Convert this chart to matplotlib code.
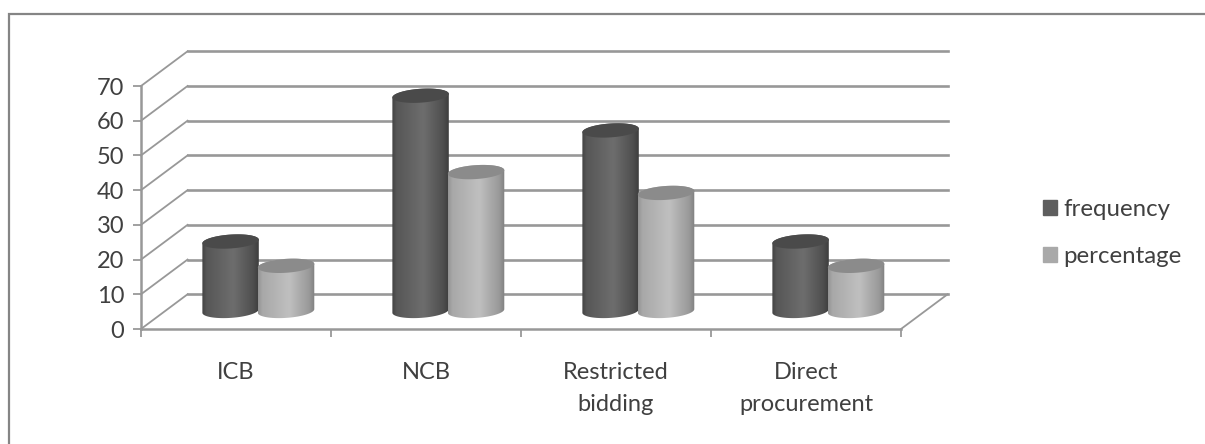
import numpy as np
import matplotlib
matplotlib.use('Agg')
import matplotlib.pyplot as plt
from matplotlib.patches import Patch, Polygon, Rectangle

# Datos de la grafica
categorias = ['ICB', 'NCB', 'Restricted\nbidding', 'Direct\nprocurement']
frequency = [20, 62, 52, 20]
percentage = [13, 40, 34, 13]
valores_y = [0, 10, 20, 30, 40, 50, 60, 70]

GRIS_LINEA = '#989898'
GRIS_TEXTO = '#404040'

plt.rcParams['font.family'] = ['Lato', 'DejaVu Sans']

fig = plt.figure(figsize=(12.05, 4.44), dpi=100)
ax = fig.add_axes([141 / 1205, (444 - 329) / 444, 760 / 1205, 243 / 444])
ax.set_xlim(0, 4)
ax.set_ylim(0, 70)
ax.patch.set_visible(False)

# Marco exterior del grafico
fig.add_artist(Rectangle((9 / 1205, -0.1), 1.2, 1.1 - 14 / 444, transform=fig.transFigure,
                         fill=False, edgecolor='#858585', linewidth=1.6))

# Paredes en falsa perspectiva
dx, dy = 0.245, 10
for v in valores_y:
    ax.plot([0, dx], [v, v + dy], color=GRIS_LINEA, lw=1.3, clip_on=False, zorder=1)
    ax.plot([dx, 4 + dx], [v + dy, v + dy], color=GRIS_LINEA, lw=1.9, clip_on=False, zorder=1)
ax.plot([4, 4 + dx], [0, dy], color=GRIS_LINEA, lw=1.3, clip_on=False, zorder=1)

for lado in ['top', 'right']:
    ax.spines[lado].set_visible(False)
for lado in ['left', 'bottom']:
    ax.spines[lado].set_color(GRIS_LINEA)
    ax.spines[lado].set_linewidth(1.8)

ax.set_yticks(valores_y)
ax.set_xticks(range(5))
ax.set_xticklabels([])
ax.set_xticks(np.arange(4) + 0.5, categorias, minor=True, linespacing=1.62)
ax.tick_params(axis='both', which='major', length=6, width=1.3, color=GRIS_LINEA)
ax.tick_params(axis='y', labelsize=17, labelcolor=GRIS_TEXTO, pad=6)
ax.tick_params(axis='x', which='minor', length=0, labelsize=17, labelcolor=GRIS_TEXTO, pad=24)

# Cilindros: elipses inclinadas y degradado horizontal
ancho = 0.297
base = 5.2
semi_alto = 2.0
inclinacion = 3.5
t = np.linspace(0, 2 * np.pi, 120)


def elipse(cx, cy):
    xs = cx + ancho / 2 * np.cos(t)
    ys = cy + semi_alto * np.sin(t) + inclinacion * (xs - cx)
    return np.column_stack([xs, ys])


def cilindro(cx, valor, tonos, tono_tapa, orden):
    izq, der = cx - ancho / 2, cx + ancho / 2
    mitad_inf = (t >= np.pi) & (t <= 2 * np.pi)
    inf = elipse(cx, base)[mitad_inf]
    sup = elipse(cx, valor + base)[t <= np.pi]
    cuerpo = Polygon(np.vstack([inf, sup]), closed=True, facecolor='none', edgecolor='none',
                     zorder=orden)
    ax.add_patch(cuerpo)
    pos = np.linspace(0, 1, 200)
    grad = np.interp(pos, [0, 0.08, 0.55, 0.9, 1], tonos)[np.newaxis, :]
    img = ax.imshow(grad, extent=[izq, der, base - 4, valor + base + 4], aspect='auto',
                    cmap='gray', vmin=0, vmax=1, zorder=orden)
    img.set_clip_path(cuerpo)
    ax.add_patch(Polygon(elipse(cx, valor + base), closed=True, facecolor=tono_tapa,
                         edgecolor='none', zorder=orden + 0.1))


tonos_freq = [0.26, 0.34, 0.43, 0.31, 0.24]
tonos_perc = [0.58, 0.66, 0.75, 0.60, 0.50]
for i in range(4):
    cilindro(i + 0.62 - ancho / 2, frequency[i], tonos_freq, '#4a4a4a', 3)
    cilindro(i + 0.62 + ancho / 2 - 0.005, percentage[i], tonos_perc, '#8b8b8b', 4)

ax.set_xlim(0, 4)
ax.set_ylim(0, 70)

# Leyenda
ley = [Patch(color='#5e5e5e', label='frequency'), Patch(color='#a9a9a9', label='percentage')]
fig.legend(handles=ley, loc='center left', bbox_to_anchor=(1043 / 1205, 1 - 233 / 444),
           frameon=False, fontsize=17.3, labelcolor=GRIS_TEXTO, handlelength=0.6,
           handleheight=0.6, handletextpad=0.25, labelspacing=1.1, borderpad=0,
           borderaxespad=0)

fig.savefig('out.png', dpi=100)
